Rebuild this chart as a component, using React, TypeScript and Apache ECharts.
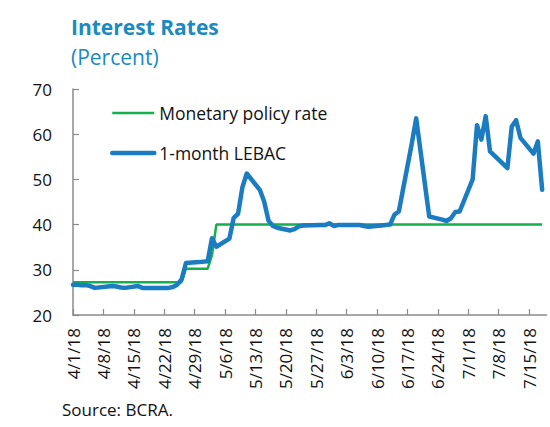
import React, { useEffect, useRef } from 'react';
import * as echarts from 'echarts';

const dates = [
  '2018-04-01', '2018-04-02', '2018-04-03', '2018-04-04', '2018-04-05', '2018-04-06',
  '2018-04-09', '2018-04-10', '2018-04-11', '2018-04-12', '2018-04-13',
  '2018-04-16', '2018-04-17', '2018-04-18', '2018-04-19', '2018-04-20',
  '2018-04-23', '2018-04-24', '2018-04-25', '2018-04-26', '2018-04-27',
  '2018-04-30', '2018-05-02', '2018-05-03', '2018-05-04',
  '2018-05-07', '2018-05-08', '2018-05-09', '2018-05-10', '2018-05-11',
  '2018-05-14', '2018-05-15', '2018-05-16', '2018-05-17', '2018-05-18',
  '2018-05-21', '2018-05-22', '2018-05-23', '2018-05-24',
  '2018-05-28', '2018-05-29', '2018-05-30', '2018-05-31', '2018-06-01',
  '2018-06-04', '2018-06-05', '2018-06-06', '2018-06-07', '2018-06-08',
  '2018-06-11', '2018-06-12', '2018-06-13', '2018-06-14', '2018-06-15',
  '2018-06-18', '2018-06-19', '2018-06-21', '2018-06-22',
  '2018-06-25', '2018-06-26', '2018-06-27', '2018-06-28', '2018-06-29',
  '2018-07-02', '2018-07-03', '2018-07-04', '2018-07-05', '2018-07-06',
  '2018-07-10', '2018-07-11', '2018-07-12', '2018-07-13',
  '2018-07-16', '2018-07-17', '2018-07-18',
];

const policyRate = [
  27.25, 27.25, 27.25, 27.25, 27.25, 27.25,
  27.25, 27.25, 27.25, 27.25, 27.25,
  27.25, 27.25, 27.25, 27.25, 27.25,
  27.25, 27.25, 27.25, 27.25, 30.25,
  30.25, 30.25, 33.25, 40,
  40, 40, 40, 40, 40,
  40, 40, 40, 40, 40,
  40, 40, 40, 40,
  40, 40, 40, 40, 40,
  40, 40, 40, 40, 40,
  40, 40, 40, 40, 40,
  40, 40, 40, 40,
  40, 40, 40, 40, 40,
  40, 40, 40, 40, 40,
  40, 40, 40, 40,
  40, 40, 40,
];

const lebac = [
  26.7, 26.7, 26.6, 26.6, 26.4, 26.0,
  26.3, 26.4, 26.3, 26.1, 26.0,
  26.4, 26.0, 26.0, 26.0, 26.0,
  26.0, 26.2, 26.7, 27.9, 31.5,
  31.7, 31.9, 37.0, 35.1,
  36.9, 41.5, 42.4, 48.3, 51.3,
  47.7, 45.1, 40.9, 39.7, 39.3,
  38.7, 39.0, 39.6, 39.8,
  39.9, 39.9, 40.3, 39.7, 39.9,
  39.9, 39.9, 39.9, 39.7, 39.5,
  39.8, 39.9, 40.0, 42.2, 42.9,
  58.0, 63.5, 49.0, 41.8,
  41.1, 40.8, 41.4, 42.8, 42.9,
  50.0, 62.0, 58.8, 64.0, 56.2,
  52.5, 61.7, 63.1, 59.2,
  55.7, 58.4, 47.7,
];

const tickLabels = [
  '4/1/18', '4/8/18', '4/15/18', '4/22/18', '4/29/18', '5/6/18', '5/13/18', '5/20/18',
  '5/27/18', '6/3/18', '6/10/18', '6/17/18', '6/24/18', '7/1/18', '7/8/18', '7/15/18',
];

const seriesNames = ['Monetary policy rate', '1-month LEBAC'];
const lastAxisDate = '2018-07-19';

const BASE = Date.UTC(2018, 3, 1);
const DAY = 86400000;
const dayOfIso = (iso: string) => {
  const [y, m, d] = iso.split('-').map(Number);
  return Math.round((Date.UTC(y, m - 1, d) - BASE) / DAY);
};
const dayOfLabel = (lab: string) => {
  const [m, d, y] = lab.split('/').map(Number);
  return Math.round((Date.UTC(2000 + y, m - 1, d) - BASE) / DAY);
};

const FONT = 'Open Sans';
const TITLE_COLOR = '#1a8ac0';
const GREEN = '#13b04b';
const BLUE = '#1b7cc1';
const AXIS_COLOR = '#8a8a8a';

export default function App() {
  const ref = useRef<HTMLDivElement>(null);

  useEffect(() => {
    if (!ref.current) return;
    const chart = echarts.init(ref.current, undefined, { renderer: 'svg' });
    const tickDays = tickLabels.map(dayOfLabel);
    const labelByDay: Record<number, string> = {};
    tickLabels.forEach((l, i) => (labelByDay[tickDays[i]] = l));

    chart.setOption({
      animation: false,
      textStyle: { fontFamily: FONT },
      title: [
        {
          text: 'Interest Rates',
          left: 66,
          top: 11,
          textStyle: { fontFamily: FONT, fontSize: 21, fontWeight: 'bold', color: TITLE_COLOR },
        },
        {
          text: '(Percent)',
          left: 66,
          top: 41,
          textStyle: { fontFamily: FONT, fontSize: 21, fontWeight: 'normal', color: TITLE_COLOR },
        },
        {
          text: 'Source: BCRA.',
          left: 57,
          top: 396,
          textStyle: { fontFamily: FONT, fontSize: 17, fontWeight: 'normal', color: '#111' },
        },
      ],
      legend: {
        orient: 'vertical',
        left: 105,
        top: 98,
        itemWidth: 42,
        itemHeight: 14,
        itemGap: 20,
        itemTextGap: 3,
        itemStyle: { opacity: 0 },
        textStyle: { fontFamily: FONT, fontSize: 17.5, color: '#111', lineHeight: 20 },
        data: [
          { name: seriesNames[0], lineStyle: { color: GREEN, width: 2.5 } },
          { name: seriesNames[1], lineStyle: { color: BLUE, width: 4.5, cap: 'round' } },
        ],
      },
      grid: {
        left: 73,
        right: 3.5,
        top: 89,
        bottom: 112,
        containLabel: false,
        outerBoundsMode: 'none',
      },
      xAxis: {
        type: 'value',
        min: 0,
        max: dayOfIso(lastAxisDate),
        splitLine: { show: false },
        axisLine: { show: true, lineStyle: { color: AXIS_COLOR, width: 1.5 } },
        axisTick: {
          show: true,
          inside: true,
          length: 6,
          customValues: tickDays,
          lineStyle: { color: AXIS_COLOR, width: 1.2 },
        },
        axisLabel: {
          customValues: tickDays,
          rotate: 90,
          margin: 13,
          fontFamily: FONT,
          fontSize: 17,
          color: '#111',
          formatter: (v: number) => labelByDay[v] ?? '',
        },
      },
      yAxis: {
        type: 'value',
        min: 20,
        max: 70,
        interval: 10,
        splitLine: { show: false },
        axisLine: { show: true, lineStyle: { color: AXIS_COLOR, width: 1.5 } },
        axisTick: { show: true, inside: true, length: 6, lineStyle: { color: AXIS_COLOR, width: 1.2 } },
        axisLabel: { margin: 21, fontFamily: FONT, fontSize: 17, color: '#111' },
      },
      series: [
        {
          name: seriesNames[0],
          type: 'line',
          symbol: 'none',
          data: dates.map((d, i) => [dayOfIso(d), policyRate[i]]),
          lineStyle: { color: GREEN, width: 2.5 },
          itemStyle: { color: GREEN },
        },
        {
          name: seriesNames[1],
          type: 'line',
          symbol: 'none',
          data: dates.map((d, i) => [dayOfIso(d), lebac[i]]),
          lineStyle: { color: BLUE, width: 4.5, join: 'round', cap: 'round' },
          itemStyle: { color: BLUE },
        },
      ],
    });
    return () => chart.dispose();
  }, []);

  return (
    <div
      ref={ref}
      style={{ position: 'fixed', left: 0, top: 0, width: 550, height: 427, background: '#fff' }}
    />
  );
}
